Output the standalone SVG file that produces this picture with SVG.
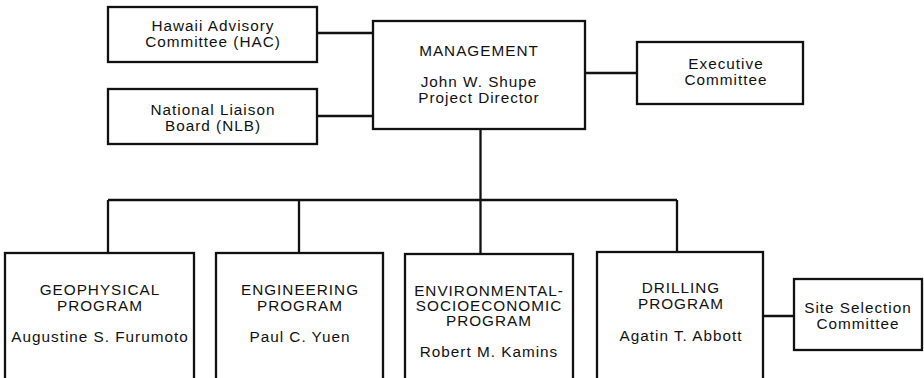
<svg xmlns="http://www.w3.org/2000/svg" width="924" height="378" viewBox="0 0 924 378">
<style>
.box{fill:#fff;stroke:#111;stroke-width:2.3}
.ln{fill:none;stroke:#111;stroke-width:2.3}
text{font-family:"Liberation Sans",Arial,Helvetica,sans-serif;font-size:15.3px;fill:#111;text-anchor:middle;letter-spacing:1px}
</style>
<rect width="924" height="378" fill="#fff"/>
<g id="connectors">
<path class="ln" d="M317,33H373M317,116H373M585,73H637M480.5,129V200M108,200H677M108,200V253M299,200V253M480.5,200V254M677,200V252M763,316H794"/>
</g>
<g id="hac">
<rect class="box" x="108" y="7" width="209" height="55"/>
<text x="213" y="31">Hawaii Advisory</text>
<text x="213" y="47">Committee (HAC)</text>
</g>
<g id="nlb">
<rect class="box" x="108" y="89" width="209" height="55"/>
<text x="213" y="115">National Liaison</text>
<text x="213" y="131">Board (NLB)</text>
</g>
<g id="management">
<rect class="box" x="373" y="21" width="212" height="108"/>
<text x="479" y="56">MANAGEMENT</text>
<text x="479" y="87">John W. Shupe</text>
<text x="479" y="103">Project Director</text>
</g>
<g id="executive">
<rect class="box" x="637" y="42" width="166" height="62"/>
<text x="726" y="69">Executive</text>
<text x="726" y="85">Committee</text>
</g>
<g id="geophysical">
<rect class="box" x="5" y="253" width="189" height="140"/>
<text x="100" y="295">GEOPHYSICAL</text>
<text x="100" y="311">PROGRAM</text>
<text x="100" y="342">Augustine S. Furumoto</text>
</g>
<g id="engineering">
<rect class="box" x="216" y="253" width="167" height="140"/>
<text x="300" y="295">ENGINEERING</text>
<text x="300" y="311">PROGRAM</text>
<text x="300" y="342">Paul C. Yuen</text>
</g>
<g id="environmental">
<rect class="box" x="405" y="254" width="168" height="140"/>
<text x="489" y="296">ENVIRONMENTAL-</text>
<text x="489" y="311">SOCIOECONOMIC</text>
<text x="489" y="326">PROGRAM</text>
<text x="489" y="357">Robert M. Kamins</text>
</g>
<g id="drilling">
<rect class="box" x="597" y="252" width="166" height="140"/>
<text x="681" y="293">DRILLING</text>
<text x="681" y="309">PROGRAM</text>
<text x="681" y="341">Agatin T. Abbott</text>
</g>
<g id="siteselection">
<rect class="box" x="794" y="279" width="128" height="71"/>
<text x="858" y="313">Site Selection</text>
<text x="858" y="329">Committee</text>
</g>
</svg>
